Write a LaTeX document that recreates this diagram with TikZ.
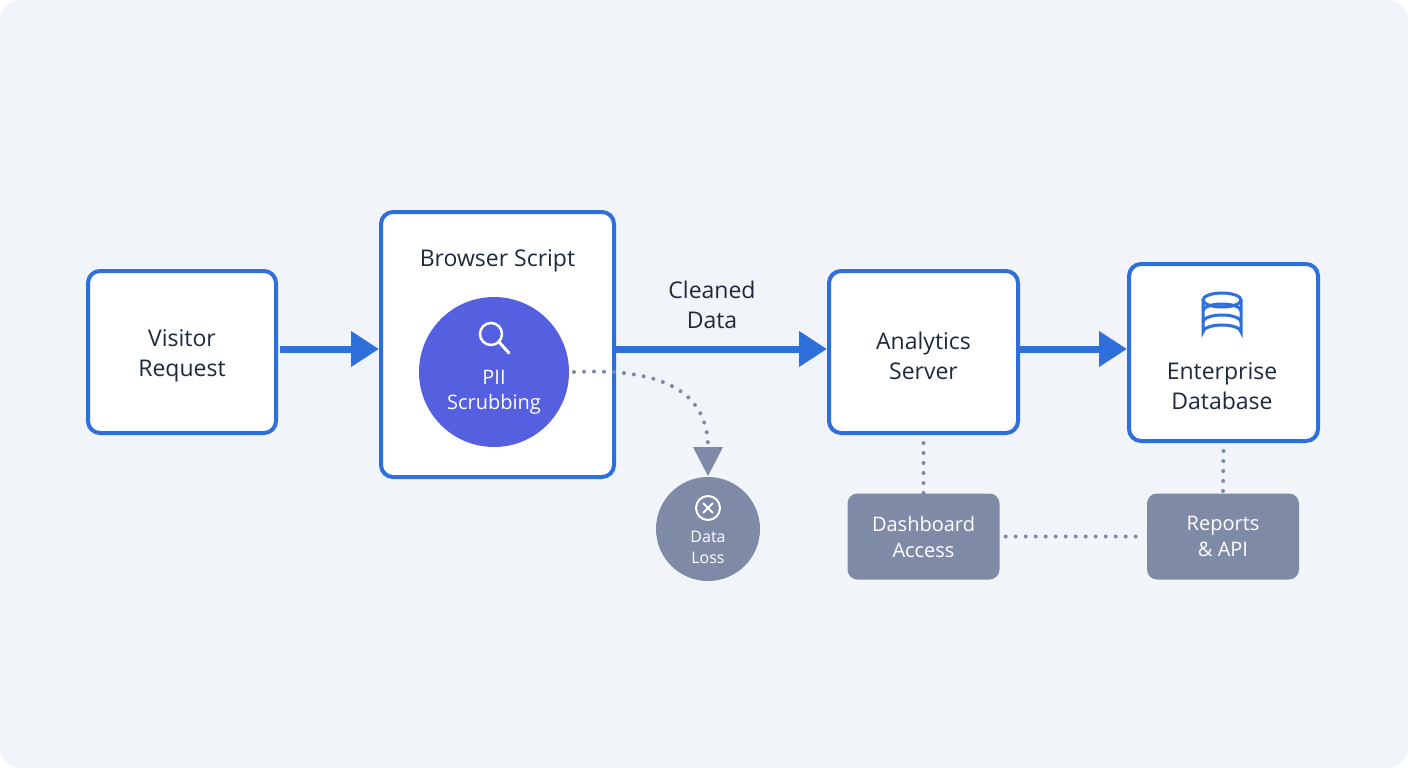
\documentclass[tikz,border=0pt]{standalone}
\usepackage{fontspec}
\setmainfont{Open Sans}
\usetikzlibrary{arrows.meta}
\definecolor{bg}{HTML}{F1F4F8}
\definecolor{blu}{HTML}{2E6FDB}
\definecolor{ind}{HTML}{5560E0}
\definecolor{gry}{HTML}{7F8BA6}
\definecolor{txt}{HTML}{1E2A3A}
\tikzset{
 box/.style={draw=blu,line width=4pt,fill=white,rounded corners=12pt,text=txt,font=\fontsize{23}{30}\selectfont,align=center},
 gbox/.style={fill=gry,rounded corners=10pt,text=white,font=\fontsize{20}{26}\selectfont,align=center,minimum width=152pt,minimum height=86pt},
 flow/.style={blu,line width=7pt,-{Triangle[length=28pt,width=34pt]}},
 dot/.style={gry,line width=4pt,line cap=round,dash pattern=on 0pt off 10pt}
}
\begin{document}
\begin{tikzpicture}[x=1pt,y=-1pt]
\useasboundingbox (0,0) rectangle (1408,768);
\fill[bg,rounded corners=20pt] (0,0) rectangle (1408,768);
\node[box,minimum width=188pt,minimum height=162pt] (visit) at (182,352) {};
\node[text=txt,font=\fontsize{23}{30}\selectfont,align=center] (visitt) at (182,356) {Visitor\\Request};
\node[box,minimum width=233pt,minimum height=265pt] (browser) at (497.5,344.5) {};
\node[text=txt,font=\fontsize{23}{30}\selectfont] (btitle) at (497.5,261) {Browser Script};
\node[circle,fill=ind,minimum size=150pt,inner sep=0pt] (pii) at (494,372) {};
\node[text=white,font=\fontsize{20}{25}\selectfont,align=center] (piit) at (494,392) {PII\\Scrubbing};
\draw[white,line width=2.5pt] (491,334) circle (11pt);
\draw[white,line width=3pt,line cap=round] (499,342) -- (509,353);
\node[box,minimum width=189pt,minimum height=162pt] (ana) at (923.5,352) {};
\node[text=txt,font=\fontsize{23}{30}\selectfont,align=center] (anat) at (923.5,356) {Analytics\\Server};
\node[box,minimum width=189pt,minimum height=177pt] (db) at (1223.5,352.5) {};
\node[text=txt,font=\fontsize{23}{30}\selectfont,align=center] (dbt) at (1222,386) {Enterprise\\Database};
\begin{scope}[blu,line width=3pt]
\draw (1203,300) -- (1203,332) arc[start angle=180,end angle=360,x radius=19,y radius=7] -- (1241,300);
\draw (1222,300) ellipse[x radius=19,y radius=7];
\draw (1203,311) arc[start angle=180,end angle=360,x radius=19,y radius=7];
\draw (1203,322) arc[start angle=180,end angle=360,x radius=19,y radius=7];
\end{scope}
\node[text=txt,font=\fontsize{23}{30}\selectfont,align=center] (clean) at (712,305) {Cleaned\\Data};
\draw[flow] (visit.east) ++(2,-3) -- (browser.west |- 0,349);
\draw[flow] (browser.east |- 0,349) -- (ana.west |- 0,349);
\draw[flow] (ana.east |- 0,349) -- (db.west |- 0,349);
\node[circle,fill=gry,minimum size=104pt,inner sep=0pt] (loss) at (708,529) {};
\node[text=white,font=\fontsize{16}{21}\selectfont,align=center] (losst) at (708,547) {Data\\Loss};
\draw[white,line width=2pt] (708,508) circle (12pt);
\draw[white,line width=2pt] (703,503) -- (713,513) (703,513) -- (713,503);
\coordinate (ls) at (574,372);
\coordinate (le) at (708,448);
\draw[dot] (ls) .. controls (660,368) and (708,390) .. (le);
\fill[gry] (693,447) -- (723,447) -- (708,476) -- cycle;
\node[gbox] (dash) at (923.5,536.5) {Dashboard\\Access};
\node[gbox] (rep) at (1223,536.5) {Reports\\\& API};
\draw[dot] (ana.south) ++(0,8) -- (dash.north);
\draw[dot] (db.south) ++(0,8) -- (rep.north);
\draw[dot] (dash.east) ++(6,0) -- ([xshift=-6pt]rep.west);
\end{tikzpicture}
\end{document}
